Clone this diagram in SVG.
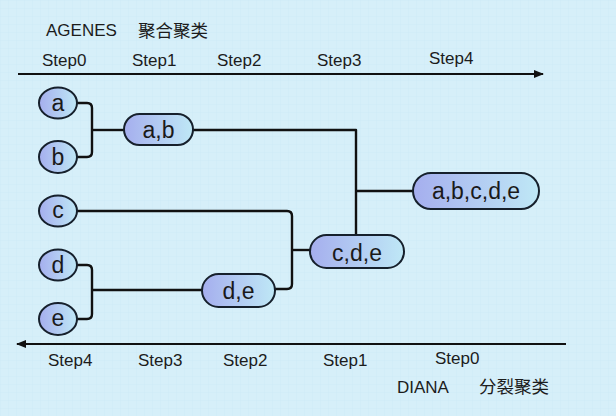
<svg xmlns="http://www.w3.org/2000/svg" width="616" height="416" viewBox="0 0 616 416">
<style>
.t{font-family:"Liberation Sans",Arial,sans-serif;fill:#1c1c1c}
.step{font-size:17px}
.cn{font-family:"Liberation Sans","Noto Sans CJK SC",sans-serif;font-size:17.5px;fill:#1c1c1c}
.lbl{font-family:"Liberation Sans",Arial,sans-serif;font-size:23px;fill:#1a1a1a;text-anchor:middle}
.node{fill:url(#ng);stroke:#16202c;stroke-width:2}
.wire{fill:none;stroke:#111;stroke-width:2.4;stroke-linejoin:round}
.axis{stroke:#111;stroke-width:2}
</style>
<defs>
<linearGradient id="ng" x1="0" y1="0" x2="1" y2="0">
<stop offset="0" stop-color="#a5aeee"/>
<stop offset="1" stop-color="#bfe8f6"/>
</linearGradient>
<pattern id="grid" width="8" height="8" patternUnits="userSpaceOnUse">
<path d="M8 0H0V8" fill="none" stroke="#c8e6f4" stroke-width="0.6"/>
</pattern>
<marker id="ah" viewBox="0 0 10 10" refX="9" refY="5" markerWidth="5" markerHeight="5" orient="auto-start-reverse">
<path d="M0 1L10 5L0 9z" fill="#111"/>
</marker>
</defs>
<rect width="616" height="416" fill="#d6eff9"/>
<rect width="616" height="416" fill="url(#grid)"/>

<g id="titles">
<text class="t" x="46" y="36" style="font-size:17px">AGENES</text>
<text class="cn" x="138" y="37">聚合聚类</text>
<text class="t" x="397" y="393" style="font-size:17px">DIANA</text>
<text class="cn" x="479" y="393">分裂聚类</text>
</g>

<g id="axes">
<line class="axis" x1="18" y1="74" x2="543" y2="74" marker-end="url(#ah)"/>
<line class="axis" x1="566" y1="344" x2="17" y2="344" marker-end="url(#ah)"/>
<text class="t step" x="42" y="66">Step0</text>
<text class="t step" x="132" y="66">Step1</text>
<text class="t step" x="217" y="66">Step2</text>
<text class="t step" x="317" y="66">Step3</text>
<text class="t step" x="429" y="64">Step4</text>
<text class="t step" x="48" y="366">Step4</text>
<text class="t step" x="138" y="366">Step3</text>
<text class="t step" x="223" y="366">Step2</text>
<text class="t step" x="323" y="366">Step1</text>
<text class="t step" x="435" y="364">Step0</text>
</g>

<g id="connectors">
<path class="wire" d="M77 103H87Q92 103 92 108V152Q92 157 87 157H77"/>
<path class="wire" d="M92 130H124"/>
<path class="wire" d="M77 265H87Q92 265 92 270V314Q92 319 87 319H77"/>
<path class="wire" d="M92 290H202"/>
<path class="wire" d="M77 211H287Q292 211 292 216V284Q292 289 287 289H275"/>
<path class="wire" d="M292 250H310"/>
<path class="wire" d="M193 130H356V235"/>
<path class="wire" d="M356 191H413"/>
</g>

<g id="node-a"><ellipse class="node" cx="58" cy="103" rx="19" ry="15.5"/><text class="lbl" x="58" y="111">a</text></g>
<g id="node-b"><ellipse class="node" cx="58" cy="157" rx="19" ry="16"/><text class="lbl" x="58" y="165">b</text></g>
<g id="node-c"><ellipse class="node" cx="58" cy="211" rx="19" ry="15.5"/><text class="lbl" x="58" y="218">c</text></g>
<g id="node-d"><ellipse class="node" cx="58" cy="265" rx="19" ry="15.5"/><text class="lbl" x="58" y="273">d</text></g>
<g id="node-e"><ellipse class="node" cx="58" cy="319" rx="19" ry="16"/><text class="lbl" x="58" y="326">e</text></g>

<g id="node-ab"><rect class="node" x="124" y="114" width="69" height="31" rx="15.5"/><text class="lbl" x="158.5" y="138">a,b</text></g>
<g id="node-de"><rect class="node" x="202" y="274" width="73" height="33" rx="16.5"/><text class="lbl" x="238.5" y="299">d,e</text></g>
<g id="node-cde"><rect class="node" x="310" y="235" width="94" height="33" rx="16.5"/><text class="lbl" x="357" y="261">c,d,e</text></g>
<g id="node-abcde"><rect class="node" x="413" y="173" width="126" height="36" rx="18"/><text class="lbl" x="476" y="199">a,b,c,d,e</text></g>
</svg>
